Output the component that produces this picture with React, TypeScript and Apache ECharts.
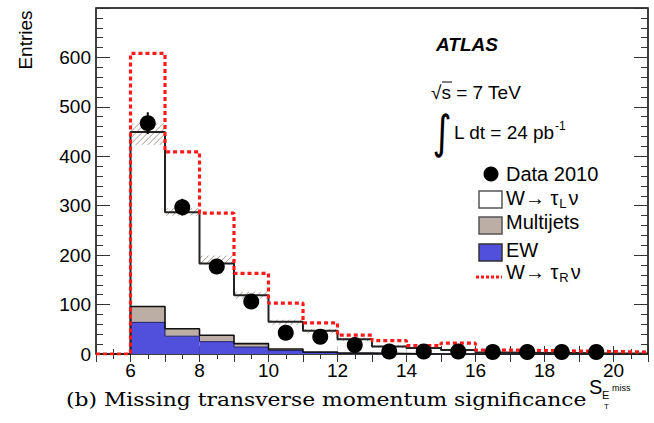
import React, { useEffect, useRef } from 'react';
import * as echarts from 'echarts';

// Histogram bins (lower edges), width 1
const binLow = [5, 6, 7, 8, 9, 10, 11, 12, 13, 14, 15, 16, 17, 18, 19, 20];
const binWidth = 1;
// Stacked MC components
const ewValues = [0, 64, 36, 25, 14, 7, 3, 1, 1, 0, 0, 0, 0, 0, 0, 0];
const multijetValues = [0, 32, 15, 13, 7, 3, 1, 1, 0, 0, 0, 0, 0, 0, 0, 0];
const wTauLValues = [0, 353, 236, 145, 98, 55, 43, 28, 14, 12, 8, 3, 2, 2, 1, 1];
// Right-handed tau hypothesis (dashed red)
const wTauRValues = [0, 608, 409, 285, 163, 103, 63, 38, 27, 17, 22, 8, 7, 6, 5, 4];
// Systematic band on total prediction
const systLow = [0, 423, 280, 181, 112, 59, 42, 26, 12, 0, 0, 0, 0, 0, 0, 0];
const systHigh = [0, 467, 295, 199, 126, 69, 51, 33, 18, 0, 0, 0, 0, 0, 0, 0];
// Data 2010
const dataX = [6.5, 7.5, 8.5, 9.5, 10.5, 11.5, 12.5, 13.5, 14.5, 15.5, 16.5, 17.5, 18.5, 19.5];
const dataY = [467, 297, 177, 106, 43, 35, 18, 5, 5, 5, 4, 4, 4, 4];
const dataErr = [22, 17, 13, 10, 7, 6, 4, 2, 2, 2, 2, 2, 2, 2];
// Axis labels
const xTickLabels = [6, 8, 10, 12, 14, 16, 18, 20];
const yTickLabels = [0, 100, 200, 300, 400, 500, 600];

const SANS = "'Liberation Sans', Arial, Helvetica, sans-serif";
const EW_COLOR = '#5050dc';
const MJ_COLOR = '#bcaea5';
const RED = '#ff1a1a';

function stepData(vals: number[]) {
  const pts = binLow.map((x, i) => [x, vals[i]]);
  pts.push([binLow[binLow.length - 1] + binWidth, vals[vals.length - 1]]);
  return pts;
}

const legendRich = {
  a: { fontSize: 20, fontFamily: SANS, color: '#000', lineHeight: 24 },
  b: { fontSize: 13, fontFamily: SANS, color: '#000', padding: [11, 2, 0, 1] },
};

export default function App() {
  const ref = useRef<HTMLDivElement>(null);
  useEffect(() => {
    document.body.style.margin = '0';
    const chart = echarts.init(ref.current!, null, { renderer: 'svg' });
    const emPlusMj = binLow.map((_, i) => ewValues[i] + multijetValues[i]);
    const total = binLow.map((_, i) => emPlusMj[i] + wTauLValues[i]);

    const xCommon = {
      type: 'value', min: 5, max: 21, interval: 1, gridIndex: 0,
      splitLine: { show: false },
      axisLine: { show: false },
      axisTick: { show: true, inside: true, length: 8, lineStyle: { color: '#333', width: 1 } },
      minorTick: { show: true, splitNumber: 2, length: 5, lineStyle: { color: '#333', width: 1 } },
    };
    const yCommon = {
      type: 'value', min: 0, max: 700, interval: 100, gridIndex: 0,
      splitLine: { show: false },
      axisLine: { show: false },
      axisTick: { show: true, inside: true, length: 14, lineStyle: { color: '#333', width: 1 } },
      minorTick: { show: true, splitNumber: 5, length: 7, lineStyle: { color: '#333', width: 1 } },
    };

    const option: any = {
      animation: false,
      backgroundColor: '#fff',
      grid: { left: 96, top: 8, right: 6, bottom: 69, show: true, borderColor: '#000', borderWidth: 1.5, backgroundColor: 'transparent' },
      xAxis: [
        {
          ...xCommon, position: 'bottom',
          axisLabel: {
            interval: 0, margin: 7, fontSize: 19, color: '#000', fontFamily: SANS,
            formatter: (v: number) => (xTickLabels.indexOf(v) >= 0 ? String(v) : ''),
          },
        },
        { ...xCommon, position: 'top', axisLabel: { show: false } },
      ],
      yAxis: [
        {
          ...yCommon, position: 'left',
          axisLabel: {
            margin: 5, fontSize: 19, color: '#000', fontFamily: SANS,
            formatter: (v: number) => (yTickLabels.indexOf(v) >= 0 ? String(v) : ''),
          },
        },
        { ...yCommon, position: 'right', axisLabel: { show: false } },
      ],
      series: [
        {
          type: 'custom', name: 'stack', z: 1, clip: true,
          encode: { x: [0, 1], y: [2, 3, 4] },
          data: binLow.map((x, i) => [x, x + binWidth, ewValues[i], emPlusMj[i], total[i]]),
          renderItem: (params: any, api: any) => {
            const x0 = api.value(0), x1 = api.value(1);
            const e = api.value(2), m = api.value(3), t = api.value(4);
            const rect = (lo: number, hi: number, color: string) => {
              const p0 = api.coord([x0, hi]);
              const p1 = api.coord([x1, lo]);
              return { type: 'rect', shape: { x: p0[0], y: p0[1], width: p1[0] - p0[0], height: p1[1] - p0[1] }, style: { fill: color } };
            };
            return { type: 'group', children: [rect(0, e, EW_COLOR), rect(e, m, MJ_COLOR), rect(m, t, '#ffffff')] };
          },
        },
        {
          type: 'custom', name: 'syst', z: 2, clip: true,
          encode: { x: [0, 1], y: [2, 3] },
          data: binLow.map((x, i) => [x, x + binWidth, systLow[i], systHigh[i]]),
          renderItem: (params: any, api: any) => {
            const lo = api.value(2), hi = api.value(3);
            if (hi <= lo) return { type: 'group', children: [] };
            const p0 = api.coord([api.value(0), hi]);
            const p1 = api.coord([api.value(1), lo]);
            const xa = p0[0], xb = p1[0], yt = p0[1], yb = p1[1];
            const children: any[] = [];
            const step = 6;
            for (let c = xa + yt + 3; c < xb + yb; c += step) {
              const xs = Math.max(xa, c - yb);
              const xe = Math.min(xb, c - yt);
              if (xe - xs < 0.5) continue;
              children.push({
                type: 'line',
                shape: { x1: xs, y1: c - xs, x2: xe, y2: c - xe },
                style: { stroke: '#a8968f', lineWidth: 1 },
              });
            }
            return { type: 'group', children };
          },
        },
        {
          type: 'line', name: 'EW outline', step: 'end', z: 3, symbol: 'none', showSymbol: false,
          data: stepData(ewValues), lineStyle: { color: '#20206a', width: 1 },
        },
        {
          type: 'line', name: 'MJ outline', step: 'end', z: 3, symbol: 'none', showSymbol: false,
          data: stepData(emPlusMj), lineStyle: { color: '#111', width: 1.6 },
        },
        {
          type: 'line', name: 'W tauL outline', step: 'end', z: 3, symbol: 'none', showSymbol: false,
          data: stepData(total), lineStyle: { color: '#222', width: 2 },
        },
        {
          type: 'line', name: 'W tauR', step: 'end', z: 4, symbol: 'none', showSymbol: false,
          data: stepData(wTauRValues), lineStyle: { color: RED, width: 3.2, type: [4, 3] },
        },
        {
          type: 'custom', name: 'errors', z: 5, clip: true,
          encode: { x: 0, y: 1 },
          data: dataX.map((x, i) => [x, dataY[i], dataErr[i]]),
          renderItem: (params: any, api: any) => {
            const x = api.value(0), y = api.value(1), e = api.value(2);
            const a = api.coord([x, y - e]);
            const b = api.coord([x, y + e]);
            return { type: 'line', shape: { x1: a[0], y1: a[1], x2: b[0], y2: b[1] }, style: { stroke: '#000', lineWidth: 2 } };
          },
        },
        {
          type: 'scatter', name: 'Data 2010', z: 6, symbol: 'circle', symbolSize: 16,
          itemStyle: { color: '#000', opacity: 1 },
          data: dataX.map((x, i) => [x, dataY[i]]),
        },
      ],
      graphic: [
        { type: 'text', x: 25, y: 40, rotation: Math.PI / 2, style: { text: 'Entries', fontSize: 19, fontFamily: SANS, fill: '#000', align: 'center', verticalAlign: 'middle' } },
        { type: 'text', x: 436, y: 44, style: { text: 'ATLAS', fontSize: 19, fontWeight: 'bold', fontStyle: 'italic', fontFamily: SANS, fill: '#000', verticalAlign: 'middle' } },
        { type: 'text', x: 431, y: 92, style: { text: '√s = 7 TeV', fontSize: 19, fontFamily: SANS, fill: '#000', verticalAlign: 'middle' } },
        { type: 'line', shape: { x1: 442, y1: 82, x2: 452, y2: 82 }, style: { stroke: '#000', lineWidth: 1 } },
        { type: 'text', x: 442, y: 132, scaleX: 0.8, style: { text: '∫', fontSize: 46, fontFamily: "'DejaVu Sans', sans-serif", fill: '#000', align: 'center', verticalAlign: 'middle' } },
        {
          type: 'text', x: 454, y: 132,
          style: {
            text: '{a|L dt = 24 pb}{c|-1}', verticalAlign: 'middle',
            rich: {
              a: { fontSize: 19, fontFamily: SANS, color: '#000', lineHeight: 24 },
              c: { fontSize: 12, fontFamily: SANS, color: '#000', padding: [0, 0, 12, 0] },
            },
          },
        },
        // legend
        { type: 'circle', shape: { cx: 491, cy: 174, r: 7.5 }, style: { fill: '#000' } },
        { type: 'text', x: 506, y: 174, style: { text: 'Data 2010', fontSize: 20, fontFamily: SANS, fill: '#000', verticalAlign: 'middle' } },
        { type: 'rect', shape: { x: 479, y: 191, width: 23, height: 17 }, style: { fill: '#fff', stroke: '#555', lineWidth: 1.5 } },
        { type: 'text', x: 506, y: 198, style: { text: '{a|W→ τ}{b|L}{a|ν}', verticalAlign: 'middle', rich: legendRich } },
        { type: 'rect', shape: { x: 479, y: 217, width: 23, height: 17 }, style: { fill: MJ_COLOR, stroke: '#555', lineWidth: 1.5 } },
        { type: 'text', x: 506, y: 222, style: { text: 'Multijets', fontSize: 20, fontFamily: SANS, fill: '#000', verticalAlign: 'middle' } },
        { type: 'rect', shape: { x: 479, y: 244, width: 23, height: 17 }, style: { fill: EW_COLOR, stroke: '#333', lineWidth: 1.5 } },
        { type: 'text', x: 506, y: 250, style: { text: 'EW', fontSize: 20, fontFamily: SANS, fill: '#000', verticalAlign: 'middle' } },
        { type: 'line', shape: { x1: 476, y1: 277, x2: 502, y2: 277 }, style: { stroke: RED, lineWidth: 3, lineDash: [3, 2] } },
        { type: 'text', x: 506, y: 272, style: { text: '{a|W→ τ}{b|R}{a|ν}', verticalAlign: 'middle', rich: legendRich } },
        // caption
        { type: 'text', x: 66, y: 400, scaleX: 1.15, style: { text: '(b) Missing transverse momentum significance', fontSize: 19, fontFamily: "'DejaVu Serif', 'Liberation Serif', serif", fill: '#000', verticalAlign: 'middle' } },
        { type: 'text', x: 589, y: 387, style: { text: 'S', fontSize: 20, fontFamily: SANS, fill: '#000', verticalAlign: 'middle' } },
        { type: 'text', x: 602, y: 395, style: { text: 'E', fontSize: 11, fontFamily: SANS, fill: '#000', verticalAlign: 'middle' } },
        { type: 'text', x: 612, y: 388, style: { text: 'miss', fontSize: 9, fontFamily: SANS, fill: '#000', verticalAlign: 'middle' } },
        { type: 'text', x: 604, y: 406, style: { text: 'T', fontSize: 8, fontFamily: SANS, fill: '#000', verticalAlign: 'middle' } },
      ],
    };
    chart.setOption(option);
    return () => chart.dispose();
  }, []);
  return <div ref={ref} style={{ width: 654, height: 423 }} />;
}
